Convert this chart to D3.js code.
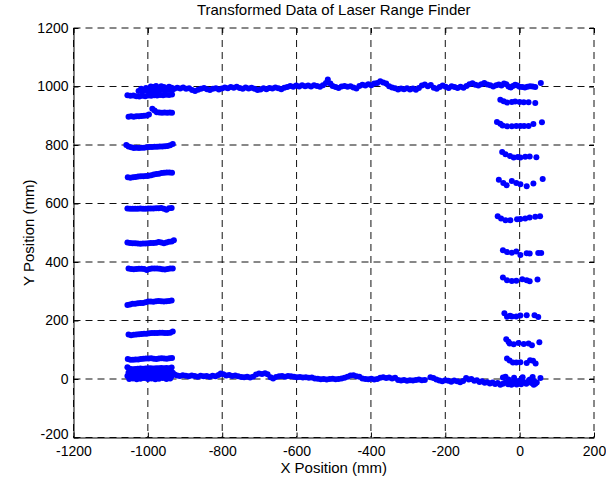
<!DOCTYPE html>
<html>
<head>
<meta charset="utf-8">
<script src="https://cdn.jsdelivr.net/npm/d3@7"></script>
<style>
  body { margin: 0; background: #fff; }
  svg { font-family: Arial, "Liberation Sans", sans-serif; }
  .axis text { font-size: 14px; fill: #000; }
  .axis line, .axis path { stroke: #000; }
</style>
</head>
<body>
<svg width="606" height="484"></svg>
<script>
// tick values
const xTicks = [-1200, -1000, -800, -600, -400, -200, 0, 200]
const yTicks = [-200, 0, 200, 400, 600, 800, 1000, 1200]

// top wall of the scan (x, y in mm)
const topWall = [
  [-1025,985],[-1018,992],[-1012,987],[-1005,995],[-998,990],[-992,1000],[-985,998],[-978,1002],[-971,996],[-964,1001],
  [-957,998],[-950,994],[-943,999],[-936,996],[-929,992],[-921,996],[-913,993],[-905,997],[-897,992],[-889,994],
  [-881,988],[-873,985],[-865,989],[-857,992],[-849,995],[-841,991],[-833,988],[-825,992],[-817,994],[-809,990],
  [-801,993],[-793,997],[-785,994],[-777,998],[-769,996],[-761,999],[-753,995],[-745,992],[-737,997],[-729,993],
  [-721,996],[-713,992],[-705,988],[-697,990],[-689,994],[-681,991],[-673,995],[-665,993],[-657,997],[-649,994],
  [-641,991],[-633,996],[-625,998],[-617,1002],[-609,999],[-601,1003],[-593,1000],[-585,1004],[-577,1001],[-569,1003],
  [-561,1000],[-553,1004],[-545,1002],[-537,999],[-529,1004],[-521,1012],[-516,1024],[-509,1010],[-503,1002],[-495,998],
  [-487,995],[-479,1000],[-471,1002],[-463,999],[-455,1001],[-447,997],[-439,993],[-431,1002],[-423,1006],[-415,1003],
  [-407,1008],[-399,1004],[-391,1010],[-383,1012],[-375,1018],[-367,1014],[-359,1010],[-351,1001],[-343,997],[-335,994],
  [-327,990],[-319,993],[-311,991],[-303,994],[-295,990],[-287,993],[-279,989],[-271,995],[-263,1003],[-255,1007],
  [-247,1001],[-239,1005],[-231,996],[-223,992],[-215,998],[-207,1003],[-199,999],[-191,995],[-183,1001],[-175,998],
  [-167,995],[-159,999],[-151,996],[-143,1002],[-135,1008],[-127,1011],[-119,1006],[-111,1003],[-103,1008],[-95,1012],
  [-87,1007],[-79,1004],[-71,1000],[-63,1004],[-56,1007],[-49,1003],[-42,1010],[-36,1008],[-30,1000],[-24,997],
  [-18,1002],[-12,1006],[-6,1003],[0,999],[7,998],[14,997],[21,999],[28,1001],[35,1000],[42,998],[57,1012],
  [-1015,983],[-1005,986],[-995,984],[-985,987],[-975,985],[-965,988],[-955,986],[-945,989],[-935,987]
]

// bottom wall of the scan
const bottomWall = [
  [-928,15],[-921,12],[-914,10],[-906,13],[-898,11],[-890,9],[-882,12],[-874,10],[-866,8],[-858,11],
  [-850,9],[-842,10],[-834,8],[-826,11],[-818,9],[-810,14],[-804,19],[-797,16],[-789,12],[-781,14],
  [-773,10],[-765,12],[-757,9],[-749,7],[-741,6],[-733,8],[-725,5],[-717,8],[-709,15],[-701,19],
  [-693,17],[-685,20],[-678,16],[-670,6],[-663,2],[-655,7],[-647,9],[-639,10],[-631,8],[-623,10],
  [-615,9],[-607,8],[-599,6],[-591,7],[-583,5],[-575,6],[-567,4],[-559,5],[-551,2],[-543,1],
  [-535,-1],[-527,0],[-519,-2],[-511,0],[-503,1],[-495,-1],[-487,0],[-479,2],[-471,4],[-463,8],
  [-455,12],[-447,13],[-439,9],[-431,8],[-423,2],[-415,0],[-407,-1],[-399,1],[-391,-2],[-383,0],
  [-375,4],[-367,6],[-359,3],[-351,5],[-343,2],[-335,4],[-327,-3],[-319,-5],[-311,-3],[-303,-6],
  [-295,-4],[-287,-5],[-279,-3],[-271,-2],[-263,-4],[-255,-3],[-240,6],[-232,3],[-224,-2],[-216,-5],
  [-208,-8],[-200,-4],[-192,-6],[-184,-9],[-176,-5],[-168,-8],[-160,-11],[-152,-7],[-144,3],[-137,-2],
  [-130,0],[-122,-6],[-115,-4],[-108,-10],[-101,-8],[-94,-13],[-87,-11],[-80,-15],[-73,-12],[-66,-17],
  [-59,-14],[-52,-20],[-45,-16],[-38,-12],[-31,-18],[-24,-10],[-17,-15],[-10,-8],[-3,-13],[4,-18],
  [11,-10],[18,-16],[25,-4],[32,-14],[39,-8],[46,-12],[56,3],
  [-45,5],[-38,8],[-30,-2],[-22,-20],[-15,4],[-8,-19],[0,-5],[8,6],[28,-2],[35,7],[42,-16],[38,-20]
]

// left side: short horizontal strips
const leftStrips = [
  [[-1055,970],[-1047,968],[-1039,969],[-1031,967],[-1023,966],[-1015,968],[-1007,967],[-999,969],[-991,968],[-983,970],[-975,969],[-967,971],[-959,970],[-951,972],[-943,971],[-935,973]],
  [[-1052,897],[-1045,898],[-1038,897],[-1031,898],[-1024,898],[-1017,899],[-1010,900],[-1003,901],[-997,904],[-988,924],[-982,918],[-976,912],[-969,911],[-962,910],[-955,911],[-948,910],[-941,911],[-935,910]],
  [[-1058,800],[-1052,795],[-1045,792],[-1038,790],[-1031,791],[-1024,790],[-1017,791],[-1010,791],[-1003,792],[-996,793],[-989,793],[-982,794],[-975,794],[-968,795],[-961,795],[-954,796],[-947,797],[-940,799],[-933,803]],
  [[-1054,690],[-1047,688],[-1040,690],[-1033,691],[-1026,692],[-1019,693],[-1012,693],[-1005,694],[-998,695],[-991,697],[-984,699],[-977,701],[-970,702],[-963,704],[-956,705],[-949,706],[-942,706],[-935,705]],
  [[-1055,583],[-1048,582],[-1041,582],[-1034,582],[-1027,582],[-1020,583],[-1013,582],[-1006,582],[-999,583],[-992,583],[-985,583],[-978,584],[-971,584],[-964,585],[-957,582],[-950,579],[-943,584],[-936,585]],
  [[-1055,467],[-1048,465],[-1041,464],[-1034,464],[-1027,463],[-1020,462],[-1013,463],[-1006,463],[-999,464],[-992,465],[-985,465],[-978,466],[-971,468],[-964,467],[-957,464],[-950,467],[-943,469],[-936,470],[-930,474]],
  [[-1052,378],[-1045,376],[-1038,375],[-1031,376],[-1024,377],[-1017,377],[-1010,376],[-1003,373],[-996,376],[-989,378],[-982,378],[-975,378],[-968,377],[-961,375],[-954,374],[-947,376],[-940,378],[-933,378]],
  [[-1055,253],[-1048,255],[-1041,257],[-1034,257],[-1027,259],[-1020,260],[-1013,260],[-1006,262],[-999,265],[-992,265],[-985,264],[-978,266],[-971,267],[-964,266],[-957,265],[-950,266],[-943,267],[-936,268]],
  [[-1052,152],[-1045,150],[-1038,151],[-1031,152],[-1024,153],[-1017,154],[-1010,155],[-1003,155],[-996,156],[-989,157],[-982,157],[-975,157],[-968,158],[-961,158],[-954,157],[-947,157],[-940,158],[-933,162]],
  [[-1054,68],[-1047,66],[-1040,66],[-1033,67],[-1026,67],[-1019,68],[-1012,69],[-1005,70],[-998,70],[-991,71],[-984,69],[-977,68],[-970,70],[-963,71],[-956,70],[-949,69],[-942,71],[-935,72]],
  [[-1055,40],[-1048,35],[-1041,33],[-1034,34],[-1027,35],[-1020,36],[-1013,35],[-1006,36],[-999,37],[-992,37],[-985,36],[-978,37],[-971,37],[-964,38],[-957,37],[-950,38],[-943,37],[-936,39]],
  [[-1052,22],[-1045,20],[-1038,21],[-1031,23],[-1024,21],[-1017,20],[-1010,22],[-1003,24],[-996,21],[-989,20],[-982,22],[-975,23],[-968,21],[-961,20],[-954,22],[-947,24],[-940,22],[-933,21]],
  [[-1055,10],[-1048,7],[-1041,5],[-1034,8],[-1027,10],[-1020,7],[-1013,5],[-1006,9],[-999,11],[-992,8],[-985,6],[-978,9],[-971,12],[-964,8],[-957,6],[-950,10],[-943,12],[-936,9]],
  [[-1050,0],[-1040,2],[-1030,-1],[-1020,1],[-1010,3],[-1000,0],[-990,2],[-980,-1],[-970,1],[-960,3],[-950,0],[-940,2]]
]

// right side: sparser strips
const rightStrips = [
  [[-52,955],[-43,950],[-34,945],[-21,947],[-12,949],[0,947],[11,946],[24,946],[42,944]],
  [[-61,879],[-52,873],[-46,867],[-34,864],[-21,864],[-9,865],[2,865],[12,865],[24,865],[37,872],[60,878]],
  [[-47,776],[-38,768],[-26,762],[-16,757],[-5,759],[2,757],[15,760],[27,761],[45,758]],
  [[-56,681],[-44,670],[-35,662],[-21,677],[-9,670],[2,666],[19,659],[37,668],[62,684]],
  [[-59,556],[-50,549],[-38,543],[-25,543],[-7,546],[2,547],[15,549],[27,552],[42,555],[55,556]],
  [[-45,440],[-34,434],[-21,432],[-9,436],[2,424],[19,430],[27,429],[50,431],[58,431]],
  [[-45,347],[-34,338],[-21,335],[-9,336],[7,341],[19,338],[27,334],[48,340]],
  [[-41,225],[-34,213],[-26,216],[-21,214],[-9,214],[2,217],[19,218],[40,218],[50,212]],
  [[-36,136],[-30,127],[-27,121],[-16,119],[-3,123],[11,120],[24,121],[33,115],[53,126]],
  [[-34,70],[-27,63],[-18,56],[-9,56],[2,57],[19,55],[28,64],[36,62],[43,53]]
]

const points = topWall.concat(bottomWall, leftStrips.flat(), rightStrips.flat())

const plotLeft = 73.5, plotRight = 594, plotTop = 28, plotBottom = 437.5

const xScale = d3.scaleLinear().domain([-1200, 200]).range([plotLeft, plotRight])
const yScale = d3.scaleLinear().domain([-200, 1200]).range([plotBottom, plotTop])

const svg = d3.select('svg')
const plain = d => String(d)

// grid
const grid = svg.append('g')
grid.selectAll('.gx').data(xTicks).enter().append('line')
    .attr('x1', d => xScale(d)).attr('x2', d => xScale(d))
    .attr('y1', plotTop).attr('y2', plotBottom)
    .attr('stroke', '#111').attr('stroke-dasharray', '7,5')
grid.selectAll('.gy').data(yTicks).enter().append('line')
    .attr('y1', d => yScale(d)).attr('y2', d => yScale(d))
    .attr('x1', plotLeft).attr('x2', plotRight)
    .attr('stroke', '#111').attr('stroke-dasharray', '7,5')

// axes, ticks pointing inward
svg.append('g').attr('class', 'axis')
   .attr('transform', `translate(0,${plotBottom})`)
   .call(d3.axisBottom(xScale).tickValues(xTicks).tickFormat(plain).tickSize(-5).tickPadding(9).tickSizeOuter(0))
const yAxisG = svg.append('g').attr('class', 'axis')
   .attr('transform', `translate(${plotLeft},0)`)
   .call(d3.axisLeft(yScale).tickValues(yTicks).tickFormat(plain).tickSize(-5).tickPadding(5).tickSizeOuter(0))
// lift the lowest label a little so it clears the x labels
yAxisG.selectAll('.tick text').filter(d => d === yTicks[0]).attr('dy', '0.1em')
const topAxis = svg.append('g').attr('class', 'axis')
   .attr('transform', `translate(0,${plotTop})`)
   .call(d3.axisTop(xScale).tickValues(xTicks).tickSize(-5).tickFormat(''))
topAxis.select('.domain').remove()
const rightAxis = svg.append('g').attr('class', 'axis')
   .attr('transform', `translate(${plotRight},0)`)
   .call(d3.axisRight(yScale).tickValues(yTicks).tickSize(-5).tickFormat(''))
rightAxis.select('.domain').remove()

// points
svg.append('g').selectAll('circle')
   .data(points).enter().append('circle')
   .attr('cx', d => xScale(d[0]))
   .attr('cy', d => yScale(d[1]))
   .attr('r', 3)
   .attr('fill', '#0000ff')

// labels
svg.append('text')
   .attr('x', (plotLeft + plotRight) / 2).attr('y', 15)
   .attr('text-anchor', 'middle').attr('font-size', 15)
   .text('Transformed Data of Laser Range Finder')
svg.append('text')
   .attr('x', (plotLeft + plotRight) / 2).attr('y', 473)
   .attr('text-anchor', 'middle').attr('font-size', 15)
   .text('X Position (mm)')
svg.append('text')
   .attr('transform', `translate(34,${(plotTop + plotBottom) / 2}) rotate(-90)`)
   .attr('text-anchor', 'middle').attr('font-size', 15)
   .text('Y Position (mm)')
</script>
</body>
</html>
